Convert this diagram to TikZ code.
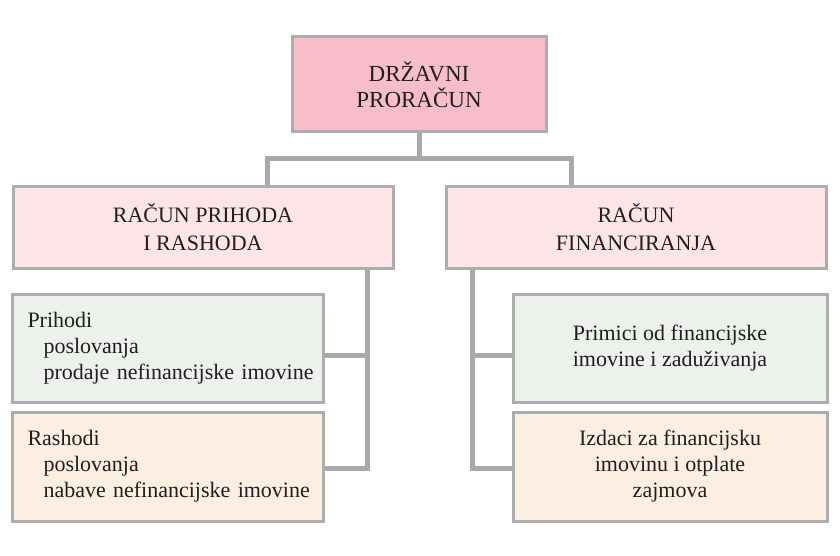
\documentclass[tikz,border=0pt]{standalone}
\usepackage{fontspec}
\setmainfont{Liberation Serif}
\usetikzlibrary{positioning}
\definecolor{boxline}{HTML}{ADADAD}
\definecolor{connline}{HTML}{A7A9AC}
\definecolor{drzfill}{HTML}{F7BDCA}
\definecolor{racfill}{HTML}{FCE4E7}
\definecolor{prifill}{HTML}{EDF1EB}
\definecolor{rasfill}{HTML}{FDEEE2}
\newcommand{\uvuci}[1]{\mbox{\hspace*{8pt}#1}}
\tikzset{
	box/.style={draw=boxline, line width=1.5pt, inner sep=0pt, text=black!88,
		font=\fontsize{11}{13}\selectfont},
	topbox/.style={box, fill=drzfill, minimum width=127pt, minimum height=47.5pt, align=center,
		font=\fontsize{11.5}{13}\selectfont},
	midbox/.style={box, fill=racfill, minimum width=190pt, minimum height=41pt, align=center,
		font=\fontsize{11}{14}\selectfont},
	leftbox/.style={box, minimum height=54pt, inner xsep=7.75pt, text width=140pt, align=left},
	rightbox/.style={box, minimum width=157pt, minimum height=54pt, align=center},
	conn/.style={draw=connline, line width=2.5pt}
}

\begin{document}
\begin{tikzpicture}[x=0.5pt, y=-0.5pt]
		%%%%% START %%%%%
		\useasboundingbox (0, 0) rectangle (840, 556);
		
		\node[topbox] (drz) at (419, 84.5) {DRŽAVNI\\PRORAČUN};
		
		\node[midbox] (rph) at (203, 227) {RAČUN PRIHODA\\I RASHODA};
		\node[midbox] (rfin) at (636, 227) {RAČUN\\FINANCIRANJA};
		
		\node[leftbox, fill=prifill] (prih) at (167.5, 348)
			{Prihodi\\\uvuci{poslovanja}\\\uvuci{prodaje nefinancijske imovine}};
		\node[leftbox, fill=rasfill, minimum height=54.5pt] (rash) at (167.5, 466.5)
			{Rashodi\\\uvuci{poslovanja}\\\uvuci{nabave nefinancijske imovine}};
		
		\node[rightbox, fill=prifill] (prim) at (670, 348)
			{Primici od financijske\\imovine i zaduživanja};
		\node[rightbox, fill=rasfill, minimum height=54.5pt] (izd) at (670, 466.5)
			{Izdaci za financijsku\\imovinu i otplate\\zajmova};
		
		\draw[conn] (drz.south) -- ++(0, 25) coordinate (bus);
		\draw[conn] (bus) -| ([xshift=32pt]rph.north);
		\draw[conn] (bus) -| ([xshift=-32.5pt]rfin.north);
		
		\draw[conn] ([xshift=82pt]rph.south) |- ([yshift=-1pt]rash.east);
		\draw[conn] ([yshift=-3.5pt]prih.east) -| ([xshift=82pt]rph.south);
		
		\draw[conn] ([xshift=-82pt]rfin.south) |- ([yshift=-1pt]izd.west);
		\draw[conn] ([yshift=-3.5pt]prim.west) -| ([xshift=-82pt]rfin.south);
		%%%%% END %%%%%
	\end{tikzpicture}
\end{document}
